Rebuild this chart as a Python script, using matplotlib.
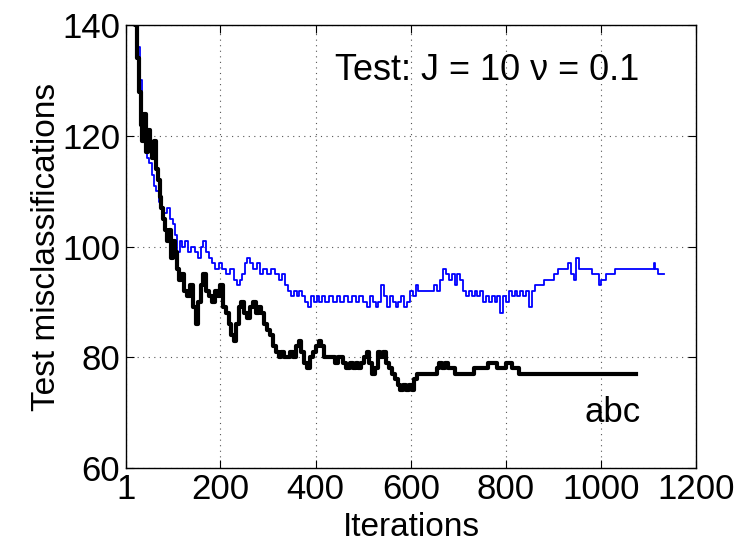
import matplotlib
matplotlib.use("Agg")
import matplotlib.pyplot as plt

plt.rcParams['font.family'] = ['Liberation Sans', 'DejaVu Sans']

# blue curve (thin): iteration, test misclassifications
blue_x = [1, 8, 14, 20, 25, 30, 34, 38, 42, 46, 50, 56, 60, 64, 70, 76, 82, 88, 94, 100,
          104, 108, 114, 120, 126, 132, 138, 146, 152, 158, 164, 170, 176, 182, 188, 196, 204, 212, 220, 228,
          234, 240, 246, 252, 256, 262, 268, 276, 282, 290, 298, 306, 314, 322, 330, 336, 342, 348, 354, 360,
          366, 372, 378, 384, 390, 396, 402, 408, 414, 420, 428, 436, 444, 452, 460, 468, 476, 484, 492, 500,
          508, 514, 520, 526, 532, 538, 544, 550, 556, 562, 568, 574, 580, 586, 592, 598, 604, 610, 616, 624,
          632, 640, 648, 656, 662, 668, 674, 680, 686, 692, 698, 704, 710, 716, 722, 728, 734, 740, 746, 752,
          758, 764, 770, 776, 782, 788, 794, 800, 806, 812, 818, 824, 830, 836, 842, 848, 854, 860, 870, 880,
          890, 900, 910, 920, 930, 936, 942, 948, 954, 960, 970, 980, 990, 996, 1000, 1010, 1020, 1030, 1040, 1060,
          1080, 1100, 1110, 1114, 1120, 1132]
blue_y = [175, 158, 148, 141, 136, 130, 124, 120, 118, 116, 115, 113, 111, 110, 108, 107, 106, 107, 105, 104,
          102, 99, 101, 100, 101, 99, 100, 99, 98, 100, 101, 99, 98, 97, 96, 97, 96, 95, 96, 94,
          93, 94, 95, 97, 98, 97, 96, 97, 95, 96, 95, 96, 95, 94, 95, 93, 92, 91, 92, 91,
          92, 91, 90, 89, 91, 90, 91, 90, 91, 90, 91, 90, 91, 90, 91, 90, 91, 90, 91, 90,
          89, 91, 90, 89, 90, 93, 91, 89, 91, 90, 89, 90, 91, 89, 90, 92, 91, 93, 92, 92,
          92, 92, 93, 92, 94, 96, 95, 94, 95, 93, 95, 94, 92, 91, 92, 91, 92, 91, 92, 90,
          91, 90, 91, 90, 91, 88, 91, 90, 92, 91, 92, 91, 92, 91, 92, 89, 92, 93, 93, 94,
          94, 95, 96, 96, 97, 95, 94, 98, 96, 96, 96, 95, 95, 93, 94, 95, 95, 96, 96, 96,
          96, 96, 97, 96, 95, 95]

# black curve (thick)
black_x = [1, 8, 14, 20, 24, 28, 32, 36, 40, 44, 48, 52, 56, 60, 64, 68, 72, 76, 80, 84,
           88, 92, 96, 100, 104, 108, 112, 118, 124, 130, 136, 142, 148, 152, 158, 164, 170, 176, 182, 188,
           194, 200, 206, 212, 218, 222, 228, 232, 238, 244, 250, 256, 262, 268, 274, 280, 286, 292, 298, 304,
           310, 316, 322, 328, 334, 340, 346, 352, 358, 364, 370, 376, 382, 388, 394, 400, 406, 412, 418, 424,
           430, 440, 446, 452, 458, 464, 472, 478, 484, 490, 496, 502, 508, 512, 518, 524, 530, 536, 542, 548,
           554, 560, 566, 572, 578, 584, 590, 596, 602, 606, 612, 624, 636, 648, 654, 660, 666, 672, 678, 684,
           692, 700, 710, 720, 732, 744, 756, 762, 772, 782, 790, 800, 806, 812, 820, 828, 1074]
black_y = [175, 158, 146, 140, 134, 128, 122, 119, 124, 117, 121, 118, 116, 119, 114, 112, 109, 107, 105, 103,
           101, 103, 98, 101, 99, 96, 94, 95, 92, 91, 93, 89, 86, 90, 93, 95, 92, 91, 90, 92,
           91, 93, 89, 88, 86, 84, 83, 86, 89, 90, 88, 87, 89, 90, 88, 89, 88, 86, 85, 84,
           82, 81, 80, 81, 80, 80, 81, 80, 82, 83, 81, 79, 78, 80, 81, 82, 83, 82, 80, 80,
           80, 79, 80, 80, 79, 78, 79, 78, 79, 78, 79, 80, 81, 79, 77, 78, 81, 80, 81, 79,
           78, 77, 76, 75, 74, 75, 74, 75, 74, 76, 77, 77, 77, 77, 78, 79, 78, 79, 78, 78,
           77, 77, 77, 77, 78, 78, 78, 79, 79, 78, 78, 79, 79, 78, 78, 77, 77]

xticks = [1, 200, 400, 600, 800, 1000, 1200]
yticks = [60, 80, 100, 120, 140]

fig = plt.figure(figsize=(7.4, 5.46), dpi=100)
ax = fig.add_axes([0.170, 0.143, 0.771, 0.811])

ax.plot(blue_x, blue_y, color='#0000ff', lw=1.3, drawstyle='steps-post')
ax.plot(black_x, black_y, color='black', lw=3.0, drawstyle='steps-post')

ax.set_xlim(1, 1200)
ax.set_ylim(60, 140)
ax.set_xticks(xticks)
ax.set_yticks(yticks)
ax.grid(True, color='#555555', linestyle=(0, (1, 4)), linewidth=0.8)
ax.tick_params(direction='in', top=True, right=True, length=6, width=0.8, labelsize=25, pad=4)
for s in ax.spines.values():
    s.set_linewidth(1.0)

ax.set_xlabel('Iterations', fontsize=24, labelpad=4)
ax.set_ylabel('Test misclassifications', fontsize=24, labelpad=0)

ax.text(0.633, 0.898, 'Test: J = 10 \u03bd = 0.1', transform=ax.transAxes, fontsize=26,
        ha='center', va='center')
ax.text(0.853, 0.126, 'abc', transform=ax.transAxes, fontsize=25, ha='center', va='center')

fig.savefig('out.png', dpi=100)
